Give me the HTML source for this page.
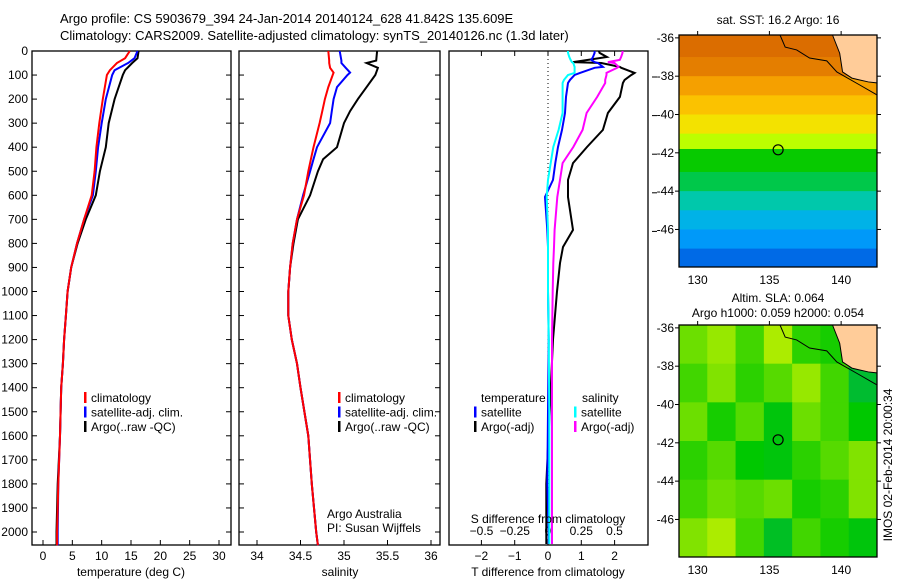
<!DOCTYPE html>
<html><head><meta charset="utf-8">
<style>
html,body{margin:0;padding:0;background:#fff;}
svg{display:block;font-family:"Liberation Sans",sans-serif;}
text{font-size:12px;fill:#000;}
</style></head>
<body>
<svg id="chart" width="900" height="580" viewBox="0 0 900 580" xmlns="http://www.w3.org/2000/svg">
<text x="60" y="23" style="font-size:13px">Argo profile: CS 5903679_394 24-Jan-2014 20140124_628 41.842S 135.609E</text>
<text x="60" y="40" style="font-size:13px">Climatology: CARS2009. Satellite-adjusted climatology: synTS_20140126.nc (1.3d later)</text>
<g id="g1"></g>
<g id="g2"></g>
<g id="g3"></g>
<g id="m1"></g>
<g id="m2"></g>
<text x="778" y="24" text-anchor="middle">sat. SST: 16.2 Argo: 16</text>
<text x="778" y="302" text-anchor="middle">Altim. SLA: 0.064</text>
<text x="778" y="317" text-anchor="middle">Argo h1000: 0.059 h2000: 0.054</text>
<text transform="translate(892,465) rotate(-90)" text-anchor="middle">IMOS 02-Feb-2014 20:00:34</text>
</svg>
<script>
// ---- data ----
const depthTicks=[0,100,200,300,400,500,600,700,800,900,1000,1100,1200,1300,1400,1500,1600,1700,1800,1900,2000];
const tTicks=[0,5,10,15,20,25,30];
const sTicks=[34,34.5,35,35.5,36];
const dTTicks=[-2,-1,0,1,2];
const dSTicks=[-0.5,-0.25,0,0.25,0.5];
const dSTickLabels=["-0.5","-0.25","0","0.25","0.5"];
const tDepth=[0,30,50,80,100,200,300,400,500,600,700,800,900,1000,1100,1200,1300,1400,1600,1800,2000,2055];
const tClim=[14.8,14.0,12.6,11.4,10.9,10.2,9.6,9.1,8.8,8.3,7.0,5.8,4.8,4.2,3.9,3.6,3.4,3.1,2.9,2.6,2.4,2.4];
const tSat=[16.1,15.6,14.5,12.2,11.8,10.7,10.0,9.4,9.0,8.5,7.0,5.8,4.8,4.2,3.9,3.6,3.4,3.1,2.9,2.6,2.5,2.5];
const tArgo=[16.3,16.1,15.2,14.0,13.6,12.2,11.2,10.7,9.7,9.0,7.3,5.9,4.8,4.2,3.9,3.6,3.4,3.1,2.9,2.5,2.3,2.3];
const sDepth=[0,40,50,70,90,100,150,200,250,300,400,450,500,600,700,800,900,1000,1100,1200,1300,1400,1600,1800,2000,2055];
const sClim=[34.82,34.83,34.83,34.84,34.88,34.87,34.82,34.78,34.75,34.72,34.65,34.62,34.59,34.54,34.46,34.41,34.38,34.36,34.36,34.40,34.46,34.50,34.59,34.63,34.68,34.70];
const sSat=[34.95,34.97,34.97,35.02,35.07,35.04,34.92,34.88,34.86,34.84,34.69,34.65,34.61,34.53,34.46,34.41,34.38,34.36,34.36,34.40,34.46,34.50,34.59,34.63,34.68,34.70];
const sArgo=[35.38,35.37,35.26,35.39,35.37,35.36,35.26,35.16,35.07,35.00,34.92,34.76,34.70,34.61,34.47,34.42,34.38,34.36,34.36,34.40,34.46,34.50,34.59,34.63,34.68,34.70];
const dDepth=[0,8,25,37,46,50,66,70,91,100,120,133,191,258,328,399,466,536,607,744,815,882,1000,1200,1500,1800,2000,2050];
const dTSat=[1.4,1.4,1.35,1.3,1.4,1.5,1.65,1.4,0.96,0.8,0.66,0.6,0.54,0.51,0.42,0.3,0.22,0.15,-0.09,-0.02,0,0,0,0.02,0,-0.02,0.02,0.02];
const dTArgo=[1.53,1.55,1.77,1.2,0.75,1.6,2.16,2.2,2.6,2.5,2.3,2.25,2.16,1.8,1.65,1.17,0.75,0.6,0.6,0.75,0.45,0.36,0.27,0.15,0.05,-0.05,-0.05,-0.05];
const dSSat=[0.15,0.15,0.16,0.17,0.18,0.19,0.2,0.2,0.2,0.15,0.12,0.11,0.11,0.11,0.08,0.04,0.02,0,-0.01,0,0,0,0,0.005,0.01,0.01,0.01,0.01];
const dSArgo=[0.56,0.56,0.55,0.54,0.45,0.5,0.53,0.52,0.44,0.44,0.43,0.43,0.37,0.29,0.26,0.19,0.11,0.09,0.07,0.05,0.045,0.04,0.035,0.03,0.03,0.03,0.03,0.03];
const lonTicks=[130,135,140];
const latTicks=[-36,-38,-40,-42,-44,-46];
const sstBandLat=[-35.85,-37,-38,-39,-40,-41,-41.8,-43,-44,-45,-46,-47,-47.96];
const sstBandVal=[19.3,19.0,18.4,17.8,17.2,16.5,15.5,15.0,14.4,13.5,12.8,11.8];
const slaGrid=[
 [0.5,0.7,0.3,0.8,0.2,0.1,-0.5],
 [0.3,0.6,0.2,0.4,0.7,0.3,-0.4],
 [0.5,0.1,0.4,-0.1,0.5,0.3,0.0],
 [0.2,0.4,0.0,-0.1,0.2,0.4,0.6],
 [0.3,0.5,0.4,0.5,0.1,0.2,0.6],
 [0.6,0.8,0.3,-0.3,0.3,0.1,-0.1]];
const argoLon=135.609, argoLat=-41.842;
const coastLon=[135.74,136.1,136.9,137.8,139.0,139.7,141.3,142.5];
const coastLat=[-35.85,-36.48,-36.63,-37.05,-37.2,-37.78,-38.46,-38.98];
const landLon=[139.4,139.9,140.1,140.75,141.3,141.9,142.5,142.5];
const landLat=[-35.85,-36.8,-37.78,-38.1,-38.2,-38.3,-38.35,-35.85];

// ---- helpers ----
const NS="http://www.w3.org/2000/svg";
function mk(tag,parent,attrs){const e=document.createElementNS(NS,tag);for(const k in attrs)e.setAttribute(k,attrs[k]);parent.appendChild(e);return e;}
const Y0=51,YS=(532-51)/2000;
function yD(d){return Y0+d*YS;}
const TOP=51,BOT=545;

function frame(g,x0,x1,name){
 const r=mk('rect',g,{x:x0,y:TOP,width:x1-x0,height:BOT-TOP,fill:'none',stroke:'#000','stroke-width':1.3});
 
}
function line(g,xs,ds,fx,col,name,w){
 let p='';for(let i=0;i<xs.length;i++)p+=(i?'L':'M')+fx(xs[i]).toFixed(1)+','+yD(ds[i]).toFixed(1);
 const e=mk('path',g,{d:p,fill:'none',stroke:col,'stroke-width':w||2});
 
}
function xTicks(g,vals,labels,fx,ly,name,top){
 vals.forEach((v,i)=>{const x=fx(v);
  const t=mk('line',g,{x1:x,x2:x,y1:BOT,y2:BOT-5,stroke:'#000'});
  if(top){const t2=mk('line',g,{x1:x,x2:x,y1:TOP,y2:TOP+5,stroke:'#000'});}
  const l=mk('text',g,{x:x,y:ly,'text-anchor':'middle'});l.textContent=labels[i];});
}
function yTicks(g,x0,x1,labels){
 depthTicks.forEach(d=>{const y=yD(d);
  const a=mk('line',g,{x1:x0,x2:x0+5,y1:y,y2:y,stroke:'#000'});
  const b=mk('line',g,{x1:x1,x2:x1-5,y1:y,y2:y,stroke:'#000'});
  if(labels){const l=mk('text',g,{x:28,y:y+4,'text-anchor':'end'});l.textContent=d;}});
}
function legend(g,x,items){
 items.forEach((it,i)=>{const y=398+i*14.5;
  const b=mk('rect',g,{x:x,y:y-6,width:2.5,height:11,fill:it[1]});
  if(it[0]){const t=mk('text',g,{x:x+7,y:y+4});t.textContent=it[0];}});
}
function txt(g,x,y,s,name,anchor){const t=mk('text',g,{x:x,y:y,'text-anchor':anchor||'start'});t.textContent=s;}

// Panel 1
const g1=document.getElementById('g1');
const fT=v=>43+v*(219-43)/30;
frame(g1,32,231,'temperature');yTicks(g1,32,231,true);
xTicks(g1,tTicks,tTicks.map(String),fT,560,'temperature-axis');
line(g1,tArgo,tDepth,fT,'#000','argo-temperature-line');
line(g1,tSat,tDepth,fT,'#0000ff','satellite-temperature-line');
line(g1,tClim,tDepth,fT,'#ff0000','climatology-temperature-line');
txt(g1,131,576,'temperature (deg C)','x-axis-title-temperature','middle');
legend(g1,84,[['climatology','#ff0000'],['satellite-adj. clim.','#0000ff'],['Argo(..raw -QC)','#000']]);

// Panel 2
const g2=document.getElementById('g2');
const fS=v=>257+(v-34)*87;
frame(g2,239,440,'salinity');yTicks(g2,239,440,false);
xTicks(g2,sTicks,sTicks.map(String),fS,560,'salinity-axis');
line(g2,sArgo,sDepth,fS,'#000','argo-salinity-line');
line(g2,sSat,sDepth,fS,'#0000ff','satellite-salinity-line');
line(g2,sClim,sDepth,fS,'#ff0000','climatology-salinity-line');
txt(g2,340,576,'salinity','x-axis-title-salinity','middle');
legend(g2,338,[['climatology','#ff0000'],['satellite-adj. clim.','#0000ff'],['Argo(..raw -QC)','#000']]);
txt(g2,327,518,'Argo Australia','credit-line-1');
txt(g2,327,532,'PI: Susan Wijffels','credit-line-2');

// Panel 3
const g3=document.getElementById('g3');
const fdT=v=>548+v*33.3;
const fdS=v=>548+v*133;
frame(g3,449,648,'difference');
xTicks(g3,dTTicks,dTTicks.map(v=>v<0?'\u2212'+(-v):String(v)),fdT,560,'t-difference-axis',true);
dSTicks.forEach((v,i)=>txt(g3,fdS(v),535,dSTickLabels[i].replace('-','\u2212'),'s-difference-label','middle'));
const z=mk('line',g3,{x1:548,x2:548,y1:TOP,y2:BOT,stroke:'#000','stroke-dasharray':'1,3'});
line(g3,dTArgo,dDepth,fdT,'#000','argo-t-difference-line');
line(g3,dSArgo,dDepth,fdS,'#ff00ff','argo-s-difference-line');
line(g3,dTSat,dDepth,fdT,'#0000ff','satellite-t-difference-line');
line(g3,dSSat,dDepth,fdS,'#00ffff','satellite-s-difference-line');
txt(g3,548,523,'S difference from climatology','s-axis-title','middle');
txt(g3,548,576,'T difference from climatology','t-axis-title','middle');
legend(g3,474,[['','#fff'],['satellite','#0000ff'],['Argo(-adj)','#000']]);
legend(g3,574,[['','#fff'],['satellite','#00ffff'],['Argo(-adj)','#ff00ff']]);
txt(g3,481,402,'temperature','legend-title-temperature');
txt(g3,582,402,'salinity','legend-title-salinity');
for(let i=0;i<5;i++){const y=77+i*38.6;const t=mk('line',g3,{x1:652,x2:657,y1:y,y2:y,stroke:'#000'});}

// Maps
const MX0=679,MX1=877,LON0=128.7,LON1=142.5;
const fLon=v=>MX0+(v-LON0)*(MX1-MX0)/(LON1-LON0);
function jet(v,lo,hi){
 const stops=[[0,[0,0,140]],[0.12,[0,80,220]],[0.3,[0,170,255]],[0.42,[0,200,170]],[0.52,[0,200,0]],[0.62,[190,255,0]],[0.7,[255,220,0]],[0.8,[245,160,0]],[0.9,[215,100,0]],[1,[170,20,0]]];
 let t=Math.max(0,Math.min(1,(v-lo)/(hi-lo)));
 for(let i=1;i<stops.length;i++){if(t<=stops[i][0]){const a=stops[i-1],b=stops[i],f=(t-a[0])/(b[0]-a[0]);
  return 'rgb('+a[1].map((c,k)=>Math.round(c+(b[1][k]-c)*f)).join(',')+')';}}
 return 'rgb(170,20,0)';
}
function slaCol(v){
 const g=[0,200,0],y=[215,245,0],t=[0,170,120];
 const to=v>=0?y:t,f=Math.min(1,Math.abs(v));
 return 'rgb('+g.map((c,k)=>Math.round(c+(to[k]-c)*f)).join(',')+')';
}
function mapFrame(g,top,bot){
 return v=>top+(v-(-35.85))*(bot-top)/(-47.96+35.85);
}
function mapExtras(g,top,bot,fLat,name){
 let p='';landLon.forEach((v,i)=>p+=(i?'L':'M')+fLon(v)+','+fLat(landLat[i]));
 const land=mk('path',g,{d:p+'Z',fill:'#ffcc99',stroke:'#000','stroke-width':1});
 let c='';coastLon.forEach((v,i)=>c+=(i?'L':'M')+fLon(v)+','+fLat(coastLat[i]));
 const cl=mk('path',g,{d:c,fill:'none',stroke:'#000','stroke-width':1});
 const ci=mk('circle',g,{cx:fLon(argoLon),cy:fLat(argoLat),r:5,fill:'none',stroke:'#000','stroke-width':1.2});
 const fr=mk('rect',g,{x:MX0,y:top,width:MX1-MX0,height:bot-top,fill:'none',stroke:'#000','stroke-width':1.3});
 latTicks.forEach(v=>{const y=fLat(v);
  const a=mk('line',g,{x1:MX0-4,x2:MX0,y1:y,y2:y,stroke:'#000'});
  const b=mk('line',g,{x1:MX1,x2:MX1+4,y1:y,y2:y,stroke:'#000'});
  txt(g,674,y+4,String(v),name+'-lat-label','end');});
 lonTicks.forEach(v=>{const x=fLon(v);
  const a=mk('line',g,{x1:x,x2:x,y1:top-4,y2:top,stroke:'#000'});
  txt(g,x,bot+17,String(v),name+'-lon-label','middle');});
}
// SST
const m1=document.getElementById('m1');
const fLat1=mapFrame(m1,35,267);
for(let i=0;i<sstBandVal.length;i++){const y0=fLat1(sstBandLat[i]),y1=fLat1(sstBandLat[i+1]);
 const r=mk('rect',m1,{x:MX0,y:y0,width:MX1-MX0,height:y1-y0+0.5,fill:jet(sstBandVal[i],10,20.5)});
 }
mapExtras(m1,35,267,fLat1,'sst-map');
// SLA
const m2=document.getElementById('m2');
const fLat2=mapFrame(m2,325,557);
const rows=slaGrid.length,cols=slaGrid[0].length;
for(let r=0;r<rows;r++)for(let c=0;c<cols;c++){
 const x0=MX0+c*(MX1-MX0)/cols,y0=325+r*(557-325)/rows;
 const e=mk('rect',m2,{x:x0,y:y0,width:(MX1-MX0)/cols+0.5,height:(557-325)/rows+0.5,fill:slaCol(slaGrid[r][c])});
 }
mapExtras(m2,325,557,fLat2,'sla-map');
</script>
</body></html>
